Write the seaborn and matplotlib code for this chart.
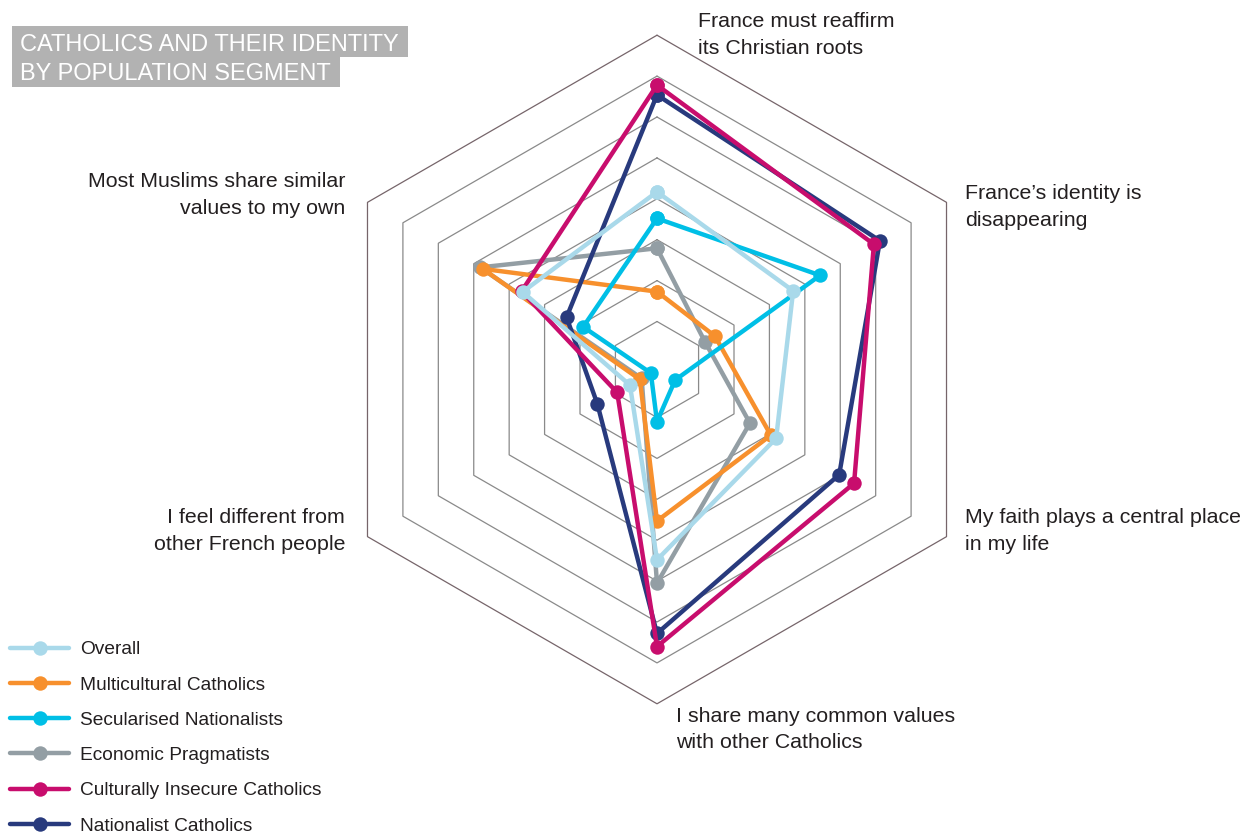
import numpy as np
import pandas as pd
import matplotlib
matplotlib.use("Agg")
import matplotlib.pyplot as plt
import seaborn as sns
from matplotlib.lines import Line2D
from matplotlib.patches import Rectangle

# Survey dimensions, clockwise from the top
axis_labels = [
    "France must reaffirm\nits Christian roots",
    "France\u2019s identity is\ndisappearing",
    "My faith plays a central place\nin my life",
    "I share many common values\nwith other Catholics",
    "I feel different from\nother French people",
    "Most Muslims share similar\nvalues to my own",
]

segments = [
    "Overall",
    "Multicultural Catholics",
    "Secularised Nationalists",
    "Economic Pragmatists",
    "Culturally Insecure Catholics",
    "Nationalist Catholics",
]

# Share agreeing (%), one value per dimension
overall = [41.7, 36.7, 31.9, 44.8, 5.9, 36.2]
multicultural = [17.3, 14.6, 30.4, 35.3, 3.1, 47.5]
secularised = [35.2, 44.3, 3.4, 11.0, 0.0, 19.1]
economic = [27.9, 11.8, 24.5, 50.5, 2.6, 48.2]
insecure = [67.8, 59.5, 53.9, 66.0, 9.5, 36.5]
nationalist = [65.4, 61.2, 49.7, 62.8, 15.1, 23.8]

ring_values = [10, 20, 30, 40, 50, 60, 70, 80]

colors = {
    "Overall": "#a9d9ea",
    "Multicultural Catholics": "#f7902d",
    "Secularised Nationalists": "#00bfe6",
    "Economic Pragmatists": "#939ea4",
    "Culturally Insecure Catholics": "#c80d6d",
    "Nationalist Catholics": "#283a7d",
}

series = {
    "Overall": overall,
    "Multicultural Catholics": multicultural,
    "Secularised Nationalists": secularised,
    "Economic Pragmatists": economic,
    "Culturally Insecure Catholics": insecure,
    "Nationalist Catholics": nationalist,
}

draw_order = [
    "Economic Pragmatists",
    "Multicultural Catholics",
    "Secularised Nationalists",
    "Nationalist Catholics",
    "Culturally Insecure Catholics",
    "Overall",
]

n = len(axis_labels)
theta = np.linspace(0, 2 * np.pi, n, endpoint=False)
theta_closed = np.append(theta, 2 * np.pi)

rows = []
for seg in segments:
    vals = series[seg]
    for i, t in enumerate(theta_closed):
        rows.append({"segment": seg, "theta": t, "value": vals[i % n], "order": i})
df = pd.DataFrame(rows)

sns.set_style("white")
plt.rcParams["font.family"] = ["Liberation Sans", "DejaVu Sans"]

W, H = 1253, 834
fig = plt.figure(figsize=(W / 100, H / 100), dpi=100)

# Polar axes placed so the chart centre sits at (657, 369.5) px
cx_px, cy_px, R_px = 657, 369.5, 334.3
ax = fig.add_axes([
    (cx_px - R_px) / W,
    1 - (cy_px + R_px) / H,
    2 * R_px / W,
    2 * R_px / H,
], projection="polar")
ax.set_theta_zero_location("N")
ax.set_theta_direction(-1)
ax.patch.set_alpha(0)

# Hexagonal rings
for v in ring_values:
    col = "#76656a" if v == ring_values[-1] else "#8a8a8a"
    ax.plot(theta_closed, [v] * (n + 1), color=col, lw=0.9, zorder=1)

LW = 3.2
MS = 10.4
for seg in draw_order:
    sub = df[df["segment"] == seg]
    sns.lineplot(
        data=sub, x="theta", y="value", color=colors[seg], sort=False,
        estimator=None, linewidth=LW, marker="o", markersize=MS,
        markeredgewidth=0, ax=ax, legend=False, zorder=3,
    )

for line in ax.get_lines():
    line.set_clip_on(False)

ax.set_ylim(-1.74, 80)
ax.set_xticks([])
ax.set_yticks([])
ax.grid(False)
ax.spines["polar"].set_visible(False)
ax.set_xlabel("")
ax.set_ylabel("")

# Dimension labels (x, first-line baseline y, alignment)
label_pos = [
    (698, 27, "left"),
    (965, 199, "left"),
    (965, 523, "left"),
    (676, 722, "left"),
    (345, 523, "right"),
    (345, 187, "right"),
]
text_color = "#231f20"
for text, (x, y, ha) in zip(axis_labels, label_pos):
    for k, part in enumerate(text.split("\n")):
        fig.text(x / W, 1 - (y + 26.5 * k) / H, part, ha=ha, va="baseline",
                 fontsize=15.4, color=text_color)

# Title on grey bands
title_lines = ["CATHOLICS AND THEIR IDENTITY", "BY POPULATION SEGMENT"]
bands = [(12, 26, 408, 57), (12, 57, 340, 87)]
baselines = [50.7, 79.5]
for (x0, y0, x1, y1), tl, bl in zip(bands, title_lines, baselines):
    fig.patches.append(Rectangle((x0 / W, 1 - y1 / H), (x1 - x0) / W, (y1 - y0) / H,
                                 transform=fig.transFigure, fc="#b2b2b2", ec="none"))
    fig.text(20 / W, 1 - bl / H, tl, ha="left", va="baseline", fontsize=17.0,
             color="white")

# Legend
handles = [Line2D([], [], color=colors[s], lw=LW, marker="o", markersize=MS,
                  markeredgewidth=0) for s in segments]
fig.legend(handles, segments, loc="upper left",
           bbox_to_anchor=(10 / W, 1 - 641 / H), frameon=False,
           fontsize=13.8, handlelength=3.1, handletextpad=0.55,
           labelspacing=0.93, borderpad=0, borderaxespad=0,
           labelcolor=text_color)

fig.savefig("out.png", dpi=100)
